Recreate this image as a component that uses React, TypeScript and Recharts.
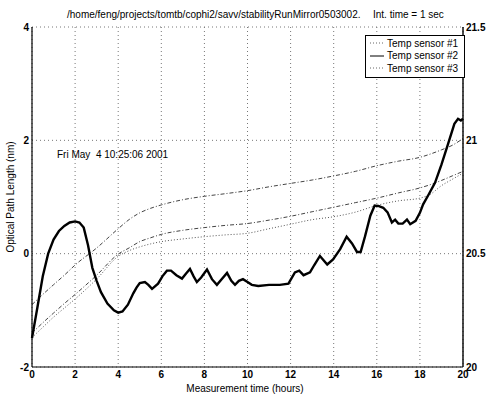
import { ComposedChart, Line, XAxis, YAxis, CartesianGrid, Legend } from "recharts";

// optical path length (nm), left axis
const oplHours = [
  0, 0.25, 0.5, 0.75, 1, 1.25, 1.5, 1.75, 2, 2.2, 2.4, 2.6, 2.8, 3, 3.2, 3.5, 3.8, 4, 4.2, 4.45,
  4.7, 4.85, 5, 5.24, 5.4, 5.57, 5.85, 6.05, 6.26, 6.45, 6.7, 6.96, 7.15, 7.33, 7.5, 7.65, 7.85,
  8.12, 8.35, 8.58, 8.8, 9.05, 9.25, 9.42, 9.6, 9.79, 10, 10.2, 10.5, 11, 11.5, 11.9, 12.2, 12.4,
  12.6, 12.9, 13.1, 13.36, 13.7, 13.97, 14.3, 14.6, 14.85, 15.08, 15.25, 15.45, 15.7, 15.9, 16.1,
  16.3, 16.5, 16.7, 16.85, 17, 17.2, 17.4, 17.55, 17.8, 18, 18.15, 18.4, 18.7, 19, 19.3, 19.6,
  19.77, 19.9, 20,
];
const oplNm = [
  -1.49, -0.95, -0.4, 0, 0.25, 0.4, 0.49, 0.55, 0.57, 0.55, 0.46, 0.15, -0.25, -0.48, -0.68, -0.88,
  -1, -1.04, -1.02, -0.9, -0.7, -0.6, -0.52, -0.5, -0.55, -0.62, -0.53, -0.4, -0.3, -0.3, -0.38,
  -0.44, -0.35, -0.27, -0.4, -0.5, -0.42, -0.28, -0.45, -0.55, -0.45, -0.34, -0.48, -0.55, -0.48,
  -0.45, -0.5, -0.55, -0.57, -0.55, -0.55, -0.53, -0.33, -0.3, -0.38, -0.33, -0.2, -0.04, -0.19,
  -0.1, 0.08, 0.3, 0.18, 0.03, 0.03, 0.3, 0.67, 0.85, 0.84, 0.81, 0.73, 0.55, 0.6, 0.53, 0.53, 0.6,
  0.52, 0.58, 0.72, 0.87, 1.04, 1.25, 1.57, 1.93, 2.29, 2.38, 2.35, 2.38,
];

// temperatures (deg), right axis
const tempHours = [
  0, 0.5, 1, 1.5, 2, 3, 4, 4.5, 5, 5.5, 6, 7, 8, 9, 10, 11, 12, 13, 14, 15, 16, 17, 18, 18.5, 19,
  19.5, 20,
];
const sensor1 = [
  20.275, 20.32, 20.363, 20.405, 20.45, 20.525, 20.61, 20.65, 20.68, 20.7, 20.715, 20.738, 20.753,
  20.765, 20.778, 20.795, 20.81, 20.825, 20.843, 20.863, 20.888, 20.908, 20.925, 20.94, 20.958,
  20.978, 21.008,
];
const sensor2 = [
  20.15, 20.195, 20.238, 20.28, 20.32, 20.405, 20.498, 20.525, 20.553, 20.57, 20.585, 20.603,
  20.615, 20.625, 20.633, 20.648, 20.665, 20.685, 20.705, 20.725, 20.745, 20.768, 20.79, 20.805,
  20.823, 20.843, 20.863,
];
const sensor3 = [
  20.13, 20.175, 20.22, 20.26, 20.3, 20.388, 20.488, 20.513, 20.53, 20.543, 20.553, 20.565, 20.575,
  20.583, 20.59, 20.61, 20.63, 20.65, 20.663, 20.683, 20.713, 20.733, 20.745, 20.763, 20.8, 20.828,
  20.855,
];

const hourTicks = [0, 2, 4, 6, 8, 10, 12, 14, 16, 18, 20];
const oplTicks = [-2, 0, 2, 4];
const tempTicks = [20, 20.5, 21, 21.5];
const legendLabels = ["Temp sensor #1", "Temp sensor #2", "Temp sensor #3"];
const titlePath = "/home/feng/projects/tomtb/cophi2/savv/stabilityRunMirror0503002.";
const titleInt = "Int. time = 1 sec";
const dateStamp = "Fri May  4 10:25:06 2001";
const xLabel = "Measurement time (hours)";
const yLabel = "Optical Path Length (nm)";

const FONT = "'Liberation Sans', Arial, Helvetica, sans-serif";
const legendStroke = ["#666", "#000", "#666"];
const legendDash = ["1 2", undefined, "1 2"];

interface Row {
  hours: number;
  opl?: number;
  t1?: number;
  t2?: number;
  t3?: number;
}

function buildRows(): Row[] {
  const map = new Map<number, Row>();
  oplHours.forEach((h, i) => {
    const r = map.get(h) ?? { hours: h };
    r.opl = oplNm[i];
    map.set(h, r);
  });
  tempHours.forEach((h, i) => {
    const r = map.get(h) ?? { hours: h };
    r.t1 = sensor1[i];
    r.t2 = sensor2[i];
    r.t3 = sensor3[i];
    map.set(h, r);
  });
  return [...map.values()].sort((a, b) => a.hours - b.hours);
}

function LegendBox() {
  return (
    <div
      style={{
        border: "1px solid #000",
        background: "#fff",
        width: 98,
        padding: "1px 0 2px",
        fontFamily: FONT,
        fontSize: 10,
        color: "#000",
        whiteSpace: "nowrap",
        boxSizing: "content-box",
      }}
    >
      {legendLabels.map((label, i) => (
        <div key={label} style={{ display: "flex", alignItems: "center", height: 12.5 }}>
          <svg width={14} height={6} style={{ marginLeft: 4, marginRight: 3, flexShrink: 0 }}>
            <line
              x1={0}
              y1={3}
              x2={14}
              y2={3}
              stroke={legendStroke[i]}
              strokeWidth={1}
              strokeDasharray={legendDash[i]}
            />
          </svg>
          <span>{label}</span>
        </div>
      ))}
    </div>
  );
}

export default function App() {
  const data = buildRows();
  const tick = { fontSize: 10, fill: "#000", fontWeight: "bold", fontFamily: FONT };
  return (
    <div style={{ position: "absolute", left: 0, top: 0, width: 492, height: 397, background: "#fff" }}>
      <ComposedChart width={492} height={397} data={data} margin={{ top: 27, right: 0, bottom: 0, left: 0 }}>
        <CartesianGrid
          xAxisId="bottom"
          yAxisId="left"
          stroke="#777"
          strokeDasharray="1 3"
          horizontalValues={oplTicks}
          verticalValues={hourTicks}
        />
        <XAxis
          xAxisId="bottom"
          dataKey="hours"
          type="number"
          domain={[0, 20]}
          ticks={hourTicks}
          interval={0}
          height={30}
          tick={tick}
          tickLine={false}
          tickSize={0}
          tickMargin={4}
          axisLine={{ stroke: "#000", strokeWidth: 1.2 }}
        />
        <XAxis
          xAxisId="top"
          orientation="top"
          dataKey="hours"
          type="number"
          domain={[0, 20]}
          height={0}
          tick={false}
          tickLine={false}
          axisLine={{ stroke: "#000", strokeWidth: 1 }}
        />
        <YAxis
          yAxisId="left"
          domain={[-2, 4]}
          ticks={oplTicks}
          interval={0}
          width={32}
          tick={tick}
          tickLine={false}
          tickSize={0}
          tickMargin={3}
          axisLine={{ stroke: "#000", strokeWidth: 1.2 }}
        />
        <YAxis
          yAxisId="right"
          orientation="right"
          domain={[20, 21.5]}
          ticks={tempTicks}
          interval={0}
          width={29}
          tick={tick}
          tickLine={false}
          tickSize={0}
          tickMargin={3}
          axisLine={{ stroke: "#000", strokeWidth: 1.4 }}
        />
        <Legend
          layout="vertical"
          align="center"
          verticalAlign="middle"
          wrapperStyle={{ left: 365, top: 35, width: 100 }}
          content={() => <LegendBox />}
        />
        <Line
          xAxisId="bottom"
          yAxisId="right"
          type="monotone"
          dataKey="t1"
          stroke="#444"
          strokeWidth={1}
          strokeDasharray="4 2 1 2"
          dot={false}
          connectNulls
          isAnimationActive={false}
          legendType="none"
        />
        <Line
          xAxisId="bottom"
          yAxisId="right"
          type="monotone"
          dataKey="t2"
          stroke="#444"
          strokeWidth={1}
          strokeDasharray="4 2 1 2"
          dot={false}
          connectNulls
          isAnimationActive={false}
          legendType="none"
        />
        <Line
          xAxisId="bottom"
          yAxisId="right"
          type="monotone"
          dataKey="t3"
          stroke="#555"
          strokeWidth={1}
          strokeDasharray="1 2"
          dot={false}
          connectNulls
          isAnimationActive={false}
          legendType="none"
        />
        <Line
          xAxisId="bottom"
          yAxisId="left"
          type="linear"
          dataKey="opl"
          stroke="#000"
          strokeWidth={2.4}
          dot={false}
          connectNulls
          isAnimationActive={false}
          legendType="none"
        />
      </ComposedChart>
      <svg
        width={492}
        height={397}
        style={{ position: "absolute", left: 0, top: 0, pointerEvents: "none" }}
        fontFamily={FONT}
        fontSize={10}
        fill="#000"
      >
        <text x={67} y={18}>{titlePath}</text>
        <text x={373} y={18}>{titleInt}</text>
        <text x={57} y={158} style={{ whiteSpace: "pre" }}>{dateStamp}</text>
        <text x={245} y={392} textAnchor="middle">{xLabel}</text>
        <text x={14} y={197} textAnchor="middle" transform="rotate(-90 14 197)">{yLabel}</text>
      </svg>
    </div>
  );
}
